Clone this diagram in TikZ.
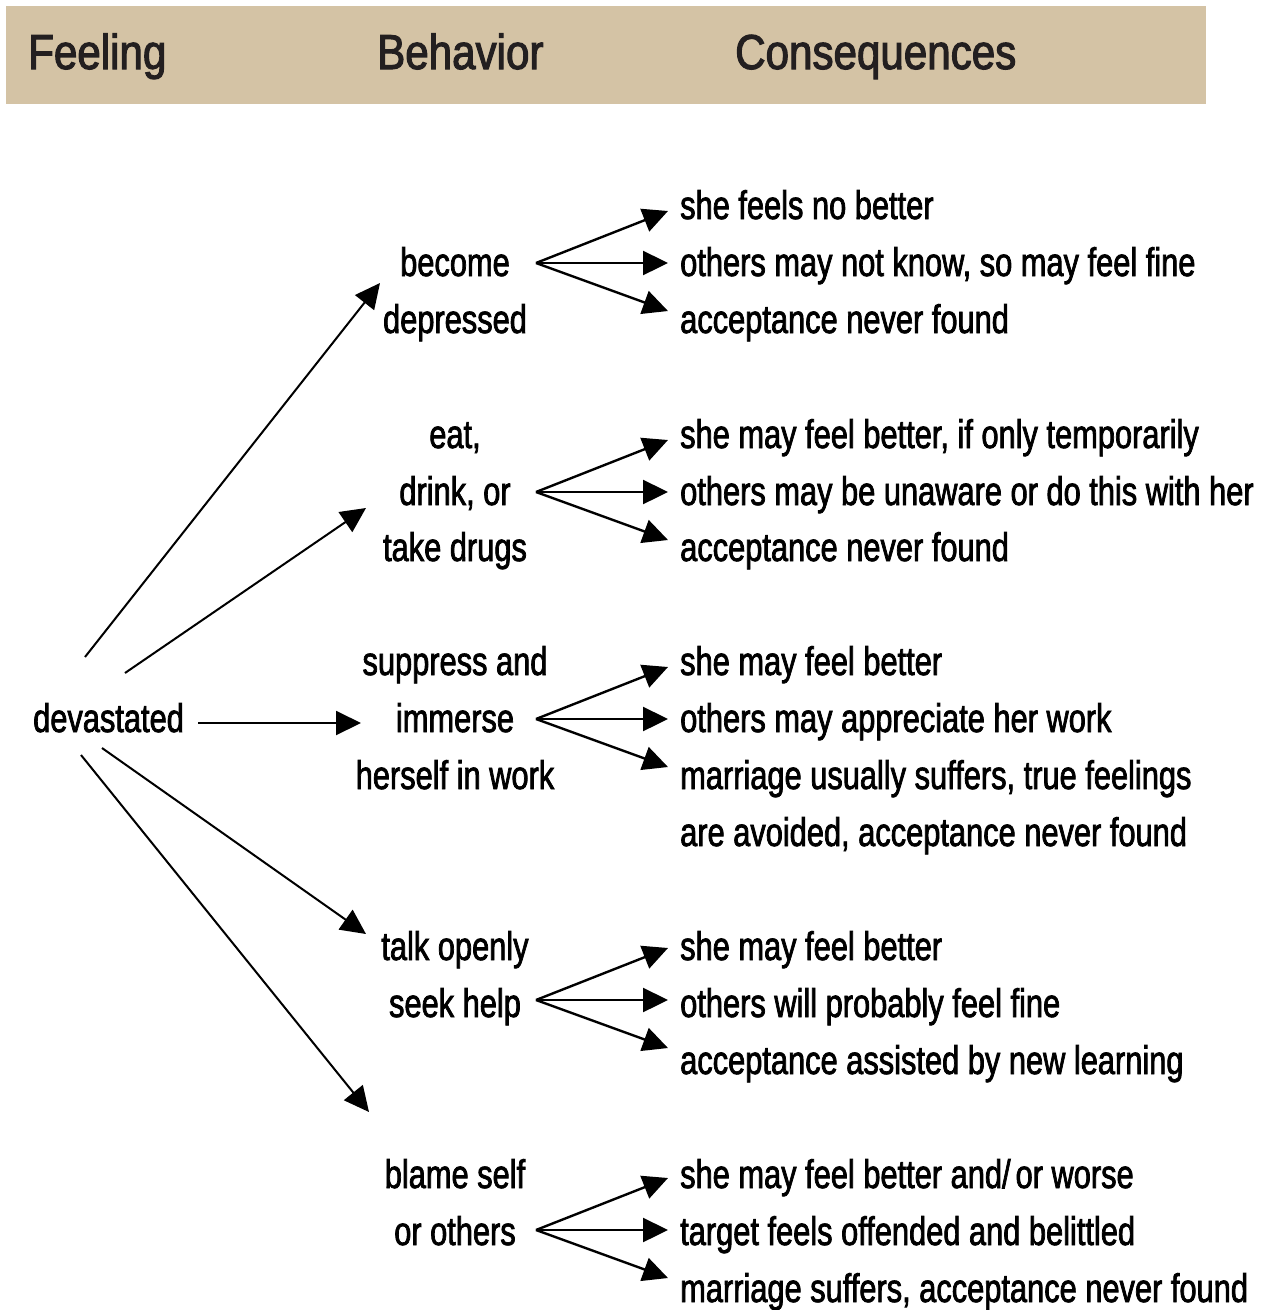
\documentclass[tikz,border=0pt]{standalone}
\usepackage{fontspec}
\setmainfont[FakeStretch=0.77,FakeBold=1.8]{Liberation Sans}
\newfontfamily\headfont[FakeStretch=0.86,FakeBold=2.2]{Liberation Sans}
\usetikzlibrary{arrows.meta}
\definecolor{band}{HTML}{D4C3A5}
\definecolor{ink}{HTML}{231F20}
\begin{document}
\begin{tikzpicture}[x=1pt,y=-1pt,
  txt/.style={inner sep=0pt, font=\fontsize{40}{48}\selectfont, text=black},
  beh/.style={txt, anchor=base},
  cons/.style={txt, anchor=base west},
  head/.style={inner sep=0pt, anchor=base west, font=\headfont\fontsize{49}{58}\selectfont, text=ink},
  link/.style={line width=2pt, -{Triangle[length=25pt,width=24pt]}},
  fan/.style={line width=2.4pt, -{Triangle[length=25pt,width=24pt]}}]
\useasboundingbox (0,0) rectangle (1267,1310);
\fill[white] (0,0) rectangle (1267,1310);
% header band
\fill[band] (6,6) rectangle (1206,104);
\node[head] (hF) at (28,69) {Feeling};
\node[head] (hB) at (377,69) {Behavior};
\node[head] (hC) at (735,69) {Consequences};

% feeling
\node[cons] (dev) at (33,732) {devastated};

% behaviors
\node[beh] (b1a) at (455,276) {become};
\node[beh] (b1b) at (455,333) {depressed};
\node[beh] (b2a) at (455,448) {eat,};
\node[beh] (b2b) at (455,505) {drink, or};
\node[beh] (b2c) at (455,561) {take drugs};
\node[beh] (b3a) at (455,675) {suppress and};
\node[beh] (b3b) at (455,732) {immerse};
\node[beh] (b3c) at (455,789) {herself in work};
\node[beh] (b4a) at (455,960) {talk openly};
\node[beh] (b4b) at (455,1017) {seek help};
\node[beh] (b5a) at (455,1188) {blame self};
\node[beh] (b5b) at (455,1245) {or others};

% consequences
\node[cons] (c1a) at (680,219) {she feels no better};
\node[cons] (c1b) at (680,276) {others may not know, so may feel fine};
\node[cons] (c1c) at (680,333) {acceptance never found};
\node[cons] (c2a) at (680,448) {she may feel better, if only temporarily};
\node[cons] (c2b) at (680,505) {others may be unaware or do this with her};
\node[cons] (c2c) at (680,561) {acceptance never found};
\node[cons] (c3a) at (680,675) {she may feel better};
\node[cons] (c3b) at (680,732) {others may appreciate her work};
\node[cons] (c3c) at (680,789) {marriage usually suffers, true feelings};
\node[cons] (c3d) at (680,846) {are avoided, acceptance never found};
\node[cons] (c4a) at (680,960) {she may feel better};
\node[cons] (c4b) at (680,1017) {others will probably feel fine};
\node[cons] (c4c) at (680,1074) {acceptance assisted by new learning};
\node[cons] (c5a) at (680,1188) {she may feel better and/\hspace{5pt}or worse};
\node[cons] (c5b) at (680,1245) {target feels offended and belittled};
\node[cons] (c5c) at (680,1302) {marriage suffers, acceptance never found};

% arrows from devastated
\coordinate (s1) at (85,657);   \coordinate (t1) at (380,283);
\coordinate (s2) at (125,673);  \coordinate (t2) at (366,508);
\coordinate (s3) at (198,723);  \coordinate (t3) at (361,723);
\coordinate (s4) at (102,748);  \coordinate (t4) at (366,934);
\coordinate (s5) at (81,755);   \coordinate (t5) at (369,1112);
\foreach \i in {1,...,5} \draw[link] (s\i) -- (t\i);

% fans
\foreach \k/\y in {1/263,2/492,3/719,4/1000,5/1230}{
  \coordinate (f\k) at (536,\y);
  \coordinate (f\k u) at (668,\y-52);
  \coordinate (f\k m) at (668,\y);
  \coordinate (f\k d) at (668,\y+48);
  \draw[fan] (f\k) -- (f\k u);
  \draw[fan] (f\k) -- (f\k m);
  \draw[fan] (f\k) -- (f\k d);
}
\end{tikzpicture}
\end{document}
